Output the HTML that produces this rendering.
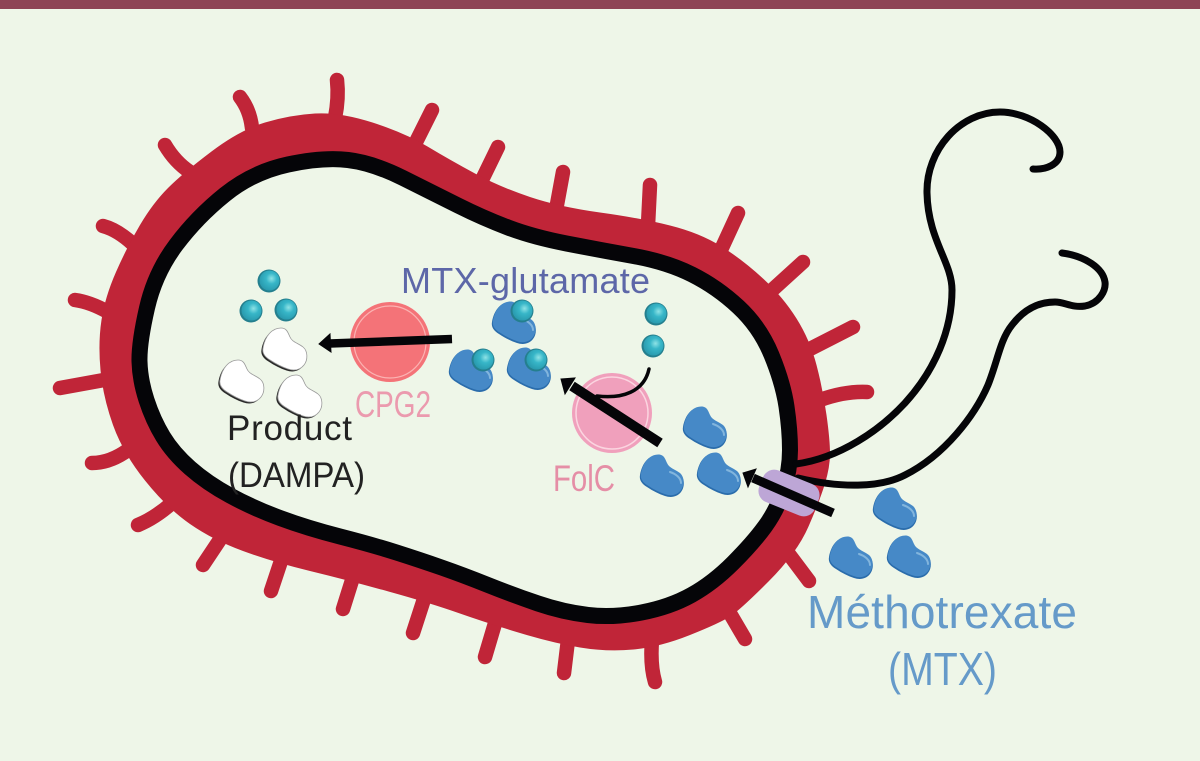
<!DOCTYPE html>
<html><head><meta charset="utf-8"><style>
html,body{margin:0;padding:0;background:#eef6e8}
svg{display:block}
text{font-family:"Liberation Sans",sans-serif}
</style></head><body>
<svg width="1200" height="761" viewBox="0 0 1200 761" xmlns="http://www.w3.org/2000/svg">
<defs>
<path id="bp" d="M1,20 C3,8 10,0 19,0 C25,0 26,5 28,9 C30,14 36,15 41,19 C46,23 46,32 42,37 C38,42 32,43 26,41 C20,39 14,36 8,32 C3,29 0,25 1,20Z"/>
<g id="blob"><use href="#bp" fill="#2a6cab"/>
<use href="#bp" fill="#4689c7" transform="translate(1,-0.5) scale(0.97)"/>
<path d="M31,17 C37,19 42,23 42,28" fill="none" stroke="#82b5dd" stroke-width="2" stroke-linecap="round"/></g>
<g id="wblob"><use href="#bp" fill="#2a2a2a" transform="translate(-1.5,1.5)"/>
<use href="#bp" fill="#ffffff" stroke="#9a9a9a" stroke-width="0.8"/></g>
<radialGradient id="bg" cx="0.6" cy="0.4" r="0.6"><stop offset="0" stop-color="#8fe3e6"/><stop offset="0.45" stop-color="#37b6c8"/><stop offset="1" stop-color="#2a9cb0"/></radialGradient>
<g id="ball"><circle r="11.5" fill="#247f8e"/><circle cx="0.5" cy="-0.5" r="10" fill="url(#bg)"/></g>
</defs>
<rect width="1200" height="761" fill="#eef6e8"/>
<rect width="1200" height="9" fill="#8e4455"/>
<g stroke="#c02538" stroke-width="14.5" stroke-linecap="round" fill="none">
<path d="M337,80 Q339,98 335,118"/><path d="M240,97 Q250,110 252,128"/><path d="M165,145 Q175,162 190,172"/><path d="M103,226 Q118,230 134,245"/>
<path d="M75,300 Q90,302 108,312"/><path d="M60,388 L104,380"/><path d="M92,463 Q110,463 128,450"/><path d="M138,525 Q155,518 172,503"/>
<path d="M203,565 L221,538"/><path d="M271,591 L282,558"/><path d="M343,609 L354,574"/><path d="M413,633 L425,596"/>
<path d="M485,657 L496,620"/><path d="M564,673 L568,640"/><path d="M655,682 Q650,665 652,640"/><path d="M745,639 L728,610"/>
<path d="M809,581 L788,553"/><path d="M432,110 L414,146"/><path d="M498,147 L480,184"/><path d="M563,172 L556,210"/>
<path d="M650,185 L648,225"/><path d="M738,213 L720,252"/><path d="M803,262 L770,292"/><path d="M853,327 L808,350"/><path d="M867,392 Q845,391 820,400"/>
</g>
<path d="M100.5,370 Q98,343 101.5,320 Q105,297 116,272 Q127,247 140,225 Q153,203 168,188 Q183,173 211.5,151.5 Q240,130 265,122.5 Q290,115 315,113.5 Q340,112 372.5,122.5 Q405,133 427.5,146.5 Q450,160 475,173.5 Q500,187 530,197 Q560,207 600,212.5 Q640,218 670,225.5 Q700,233 721.5,246.5 Q743,260 763,278.5 Q783,297 796.5,318.5 Q810,340 816.5,365 Q823,390 826.5,415 Q830,440 830,453.5 Q830,467 825,483.5 Q820,500 808.5,526.5 Q797,553 768.5,581.5 Q740,610 730,616.5 Q720,623 690,635 Q660,647 633.5,649.5 Q607,652 580,647.5 Q553,643 520,633 Q487,623 458.5,613 Q430,603 388.5,591.5 Q347,580 310,571 Q273,562 243,551 Q213,540 190,524 Q167,508 145,480.5 Q123,453 113,425 Q103,397 100.5,370Z" fill="#c02538"/>
<path d="M139.5,361.5 Q139,343 147,308 Q155,273 176,245 Q197,217 225,194.5 Q253,172 288,164.5 Q323,157 348,160 Q373,163 403,178 Q433,193 458,205.5 Q483,218 508,227.5 Q533,237 566.5,243.5 Q600,250 633.5,256 Q667,262 692,274.5 Q717,287 738.5,307 Q760,327 771.5,355 Q783,383 786.5,406.5 Q790,430 790,450 Q790,470 783.5,490 Q777,510 765,526.5 Q753,543 733,563 Q713,583 691.5,595 Q670,607 641.5,612.5 Q613,618 588,615 Q563,612 538,603.5 Q513,595 488,585 Q463,575 441.5,567.5 Q420,560 396.5,552.5 Q373,545 340,536.5 Q307,528 280,518 Q253,508 230,495.5 Q207,483 190,468 Q173,453 163,436.5 Q153,420 146.5,400 Q140,380 139.5,361.5Z" fill="#eef6e8" stroke="#050508" stroke-width="16"/>
<g fill="none" stroke="#050508" stroke-width="7" stroke-linecap="round">
<path d="M796,464 C840,458 880,430 905,403 C935,370 952,330 952,290 C952,262 928,240 927,193 C926,150 960,112 1000,112 C1030,112 1060,135 1060,152 C1060,165 1045,170 1033,169"/>
<path d="M798,478 C840,488 880,488 905,475 C945,455 975,415 988,385 C998,360 1000,340 1012,325 C1025,308 1040,302 1055,302 C1065,302 1072,308 1085,306 C1100,303 1106,290 1105,282 C1103,268 1085,256 1062,253"/>
</g>
<rect x="759" y="476" width="60" height="34" rx="12" transform="rotate(22 789 493)" fill="#bda6d6"/>
<circle cx="390" cy="342" r="40" fill="#f47378"/><circle cx="390" cy="342" r="36" fill="none" stroke="#fbb3b2" stroke-width="1.2"/>
<circle cx="612" cy="413" r="40" fill="#f0a0bc"/><circle cx="612" cy="413" r="36" fill="none" stroke="#fbd5e0" stroke-width="1.5"/>
<use href="#ball" x="269" y="281"/><use href="#ball" x="251" y="311"/><use href="#ball" x="286" y="310"/>
<use href="#ball" x="656" y="314"/><use href="#ball" x="653" y="346"/>
<use href="#wblob" x="262" y="328"/><use href="#wblob" x="219" y="360"/><use href="#wblob" x="277" y="375"/>
<use href="#blob" x="491" y="302"/><use href="#blob" x="448" y="350"/><use href="#blob" x="506" y="348"/>
<use href="#ball" x="522" y="311"/><use href="#ball" x="483" y="360"/><use href="#ball" x="536" y="360"/>
<use href="#blob" x="682" y="407"/><use href="#blob" x="639" y="455"/><use href="#blob" x="696" y="453"/>
<use href="#blob" x="872" y="488"/><use href="#blob" x="828" y="537"/><use href="#blob" x="886" y="536"/>
<path d="M649,369 C644,392 622,399 597,396" fill="none" stroke="#050508" stroke-width="3.5" stroke-linecap="round"/>
<g fill="#050508" stroke="#050508">
<path d="M452,339 L330,343.5" stroke-width="8.5" fill="none"/><path d="M319,344 L330,334 L331,352Z"/>
<path d="M660,443 L572,386" stroke-width="10" fill="none"/><path d="M561,379 L575,378 L565,394Z"/>
<path d="M833,513 L753,478" stroke-width="9" fill="none"/><path d="M743,473 L756,469 L748,487Z"/>
</g>
<text x="401" y="293" font-size="36" fill="#5d67a8" textLength="249">MTX-glutamate</text>
<text x="227" y="440" font-size="35" fill="#222" textLength="125">Product</text>
<text x="228" y="487" font-size="35" fill="#222" textLength="137" lengthAdjust="spacingAndGlyphs">(DAMPA)</text>
<text x="355" y="417" font-size="37" fill="#eb9aae" textLength="76" lengthAdjust="spacingAndGlyphs">CPG2</text>
<text x="553" y="491" font-size="37" fill="#e58ea6" textLength="62" lengthAdjust="spacingAndGlyphs">FolC</text>
<text x="807" y="628" font-size="46" fill="#659ac9" textLength="270">Méthotrexate</text>
<text x="888" y="685" font-size="46" fill="#659ac9" textLength="109" lengthAdjust="spacingAndGlyphs">(MTX)</text>
</svg>
</body></html>
